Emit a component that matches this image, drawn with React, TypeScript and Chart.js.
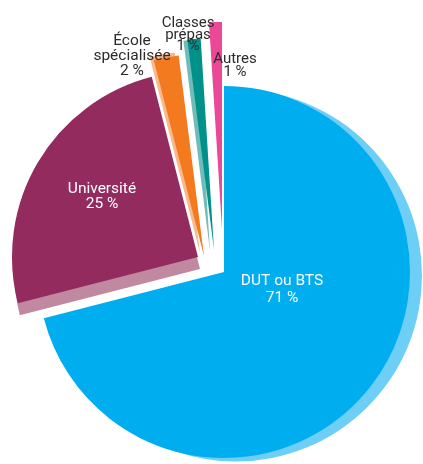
import React, { useEffect, useRef } from "react";
import { Chart, ArcElement, PieController } from "chart.js";

Chart.register(ArcElement, PieController);

// ---- data ----
const categories = ["DUT ou BTS", "Université", "École spécialisée", "Classes prépas", "Autres"];
const values = [71, 25, 2, 1, 1];
const labelLines = [["DUT ou BTS"], ["Université"], ["École", "spécialisée"], ["Classes", "prépas"], ["Autres"]];

// ---- styles ----
const colors = ["#00AEEF", "#942B5F", "#F47A20", "#00918A", "#EC4898"];
const shadowColors = ["#6DCFF6", "#C1899F", "#F9B98A", "#6FBDB8", "#F5A3C8"];
const explodeShift = [[0, 0], [-26, -15], [-20, -16], [-10, -22], [-2, -43]];
const radiusScale = [1, 1, 1.086, 1.14, 1.113];
const shadowShift = [[12, 3.5], [2, 12], [-4, -3], [-4, 1], [0, 0]];
const dark = "#2d2a2b";
const labelStyle = [
  { dx: 58, dy: 13, lh: 17, color: "#ffffff", size: 15.5 },
  { dx: -122, dy: -79, lh: 15, color: "#ffffff", size: 15.5 },
  { dx: -92, dy: -227, lh: 15, color: dark, size: 15.5 },
  { dx: -36, dy: -245, lh: 11.5, color: dark, size: 15 },
  { dx: 11, dy: -209, lh: 12.5, color: dark, size: 15 },
];
const FONT = "Roboto, 'Open Sans', sans-serif";

let baseCenter = { x: 0, y: 0 };

const explodePlugin = {
  id: "explodeShift",
  afterDatasetsUpdate(chart: any) {
    const meta = chart.getDatasetMeta(0);
    if (!meta.data.length) return;
    const bx = meta.data[0].x;
    const by = meta.data[0].y;
    baseCenter = { x: bx, y: by };
    meta.data.forEach((el: any, i: number) => {
      el.x = bx + explodeShift[i][0];
      el.y = by + explodeShift[i][1];
      el.outerRadius = el.outerRadius * radiusScale[i];
    });
  },
};

const shadowPlugin = {
  id: "sliceShadow",
  beforeDatasetsDraw(chart: any) {
    const ctx = chart.ctx;
    const meta = chart.getDatasetMeta(0);
    meta.data.forEach((el: any, i: number) => {
      const [dx, dy] = shadowShift[i];
      if (!dx && !dy) return;
      const x = el.x + dx;
      const y = el.y + dy;
      ctx.save();
      ctx.beginPath();
      ctx.moveTo(x, y);
      ctx.arc(x, y, el.outerRadius, el.startAngle, el.endAngle);
      ctx.closePath();
      ctx.fillStyle = shadowColors[i];
      ctx.fill();
      ctx.restore();
    });
  },
};

const labelPlugin = {
  id: "sliceLabels",
  afterDatasetsDraw(chart: any) {
    const ctx = chart.ctx;
    ctx.save();
    ctx.textAlign = "center";
    ctx.textBaseline = "alphabetic";
    values.forEach((v, i) => {
      const s = labelStyle[i];
      const lines = [...labelLines[i], `${v} %`];
      ctx.fillStyle = s.color;
      ctx.font = `${s.size}px ${FONT}`;
      lines.forEach((t, k) => {
        ctx.fillText(t, baseCenter.x + s.dx, baseCenter.y + s.dy + k * s.lh);
      });
    });
    ctx.restore();
  },
};

export default function App() {
  const ref = useRef<HTMLCanvasElement>(null);
  useEffect(() => {
    const chart = new Chart(ref.current as HTMLCanvasElement, {
      type: "pie",
      data: {
        labels: categories,
        datasets: [
          {
            data: values,
            backgroundColor: colors,
            borderWidth: 0,
            hoverOffset: 0,
            offset: 0,
          },
        ],
      },
      options: {
        responsive: false,
        animation: false,
        events: [],
        radius: 186,
        layout: { padding: { left: 25, top: 80, right: 0, bottom: 0 } },
        plugins: { legend: { display: false }, tooltip: { enabled: false } },
      } as any,
      plugins: [explodePlugin, shadowPlugin, labelPlugin],
    });
    return () => chart.destroy();
  }, []);
  return (
    <canvas
      ref={ref}
      width={423}
      height={464}
      style={{ position: "absolute", left: 0, top: 0, display: "block", width: 423, height: 464 }}
    />
  );
}
